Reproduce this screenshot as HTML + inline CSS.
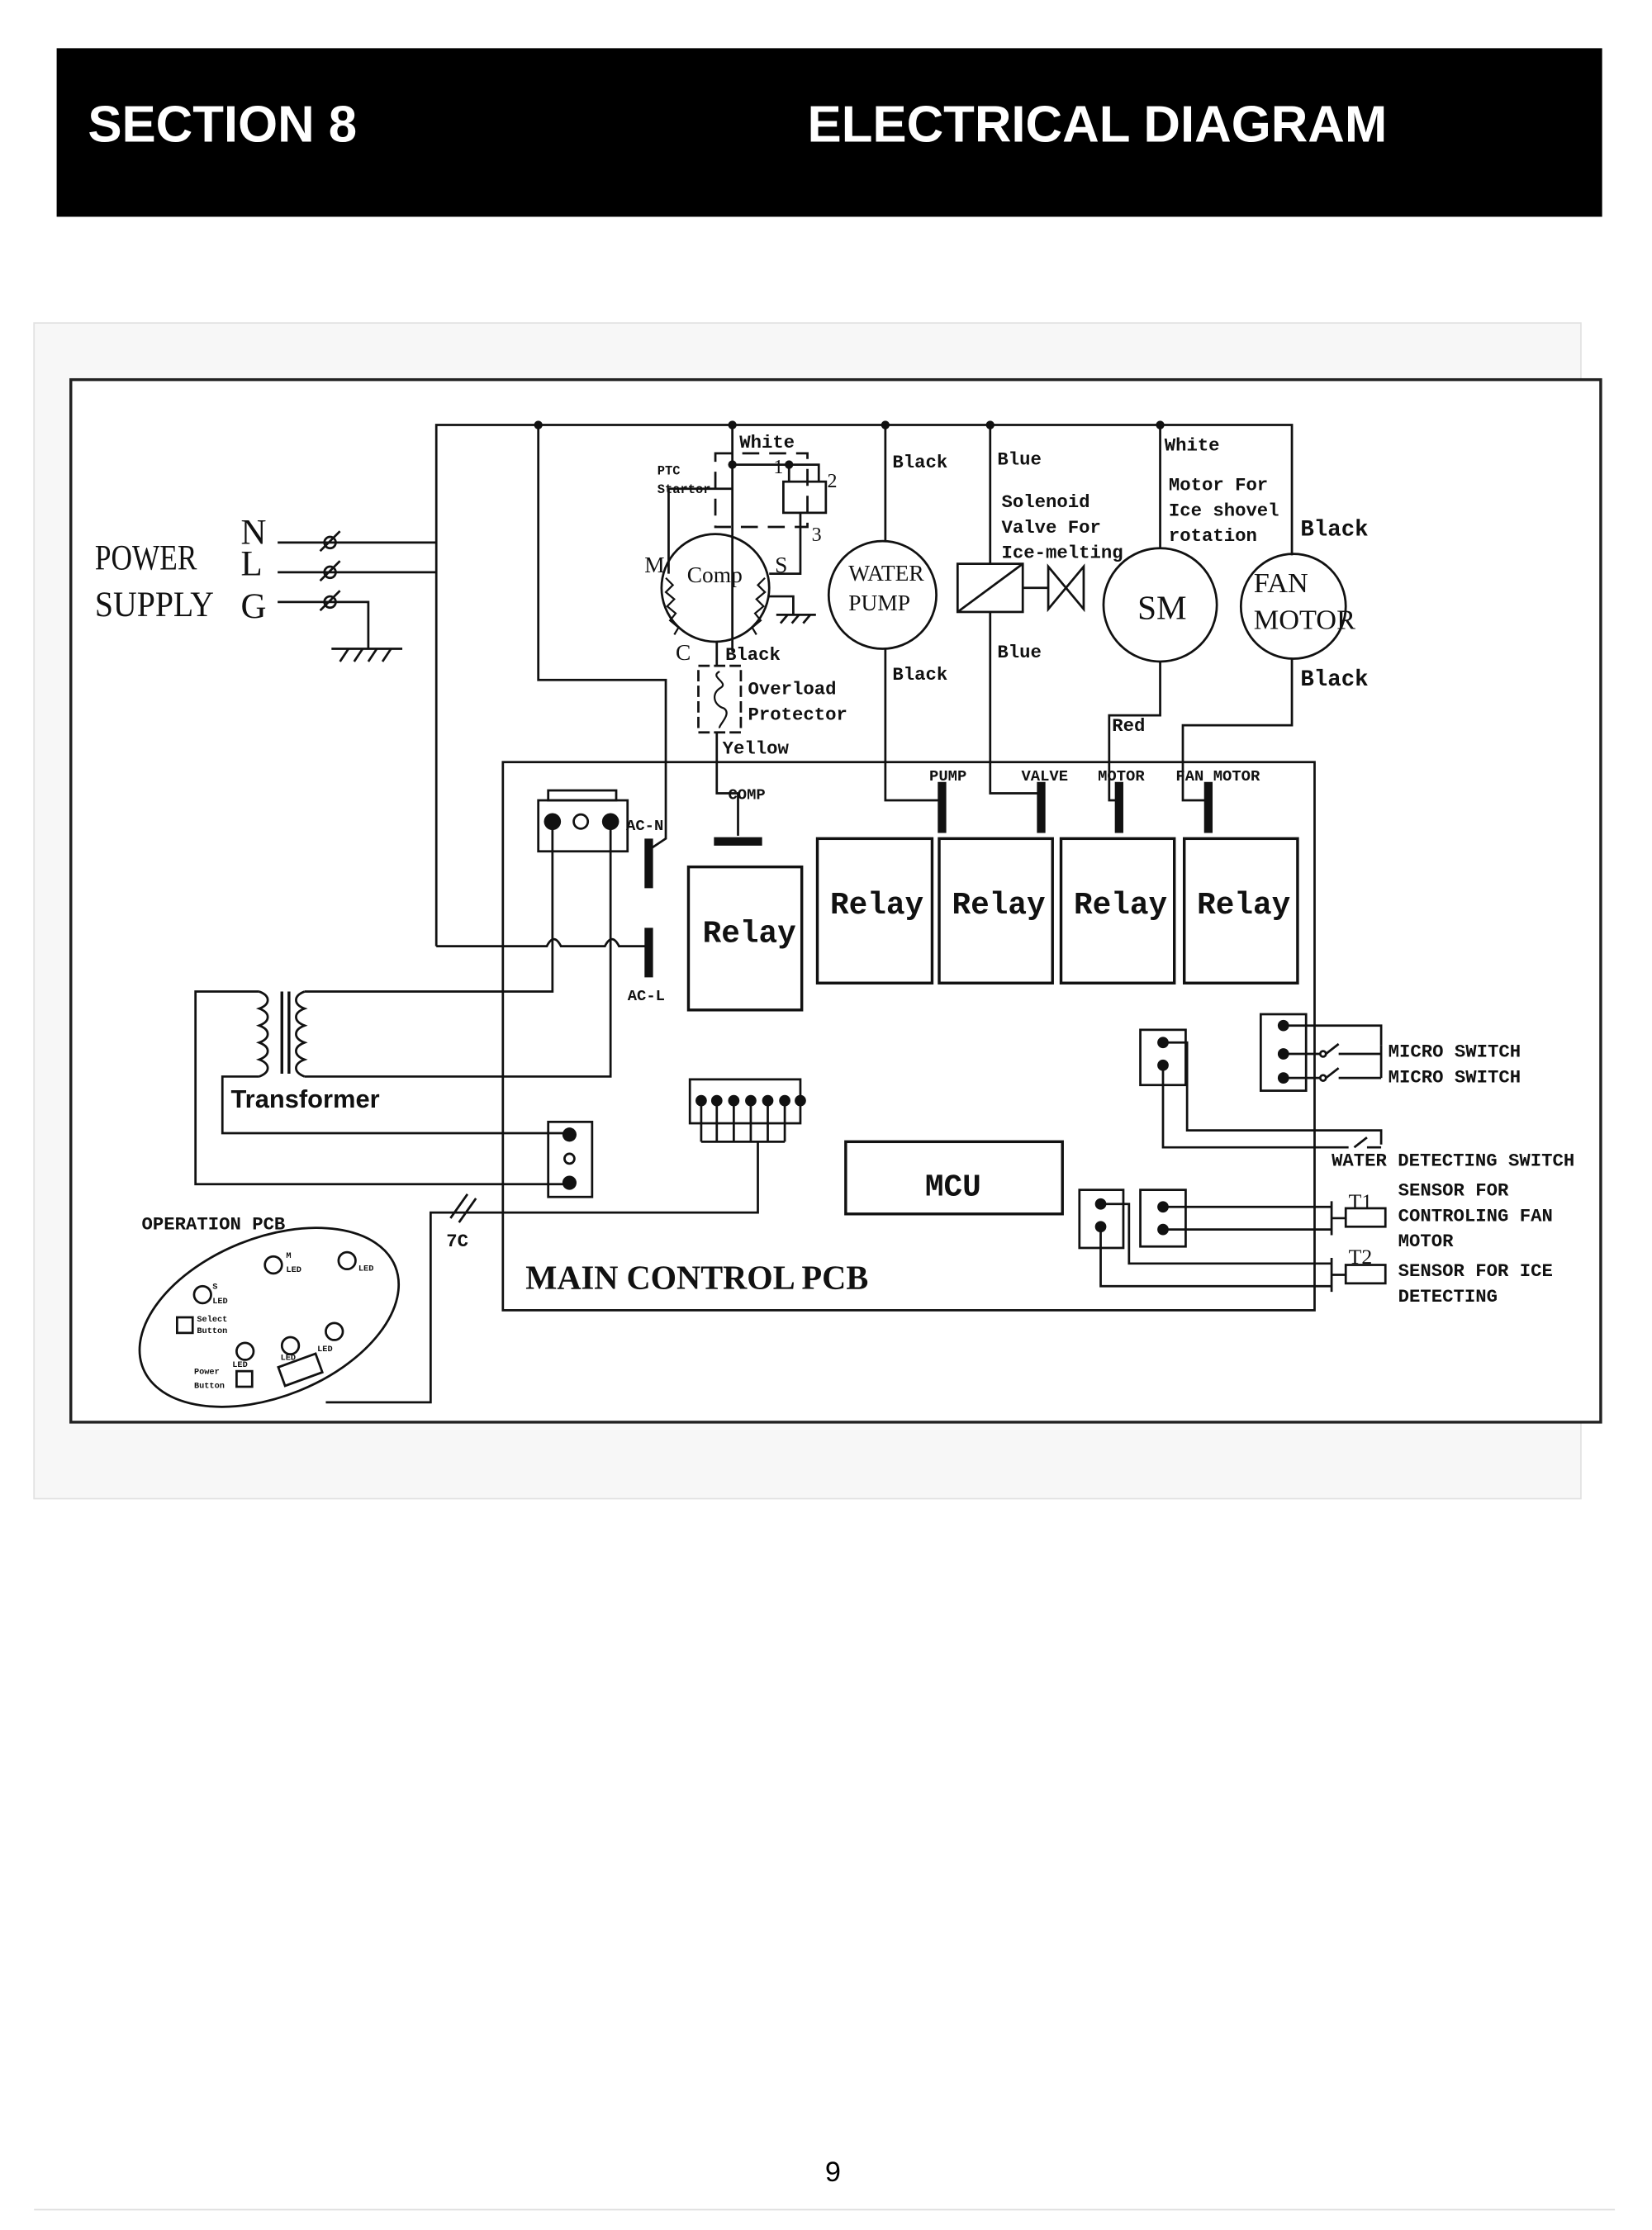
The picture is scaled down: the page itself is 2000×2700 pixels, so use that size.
<!DOCTYPE html>
<html><head><meta charset="utf-8"><style>
html,body{margin:0;padding:0;background:#fff;width:2000px;height:2700px;overflow:hidden}
svg{display:block}
.t{font-family:"Liberation Mono",monospace;font-weight:bold;fill:#111}
.s{font-family:"Liberation Serif",serif;fill:#111}
</style></head><body>
<svg width="2000" height="2700" viewBox="0 0 1166.2 1574.3" xmlns="http://www.w3.org/2000/svg">
<rect x="40" y="34" width="1091" height="119" fill="#000"/>
<text x="62" y="100" font-family="Liberation Sans, sans-serif" font-weight="bold" font-size="36" fill="#fff">SECTION 8</text>
<text x="570" y="100" font-family="Liberation Sans, sans-serif" font-weight="bold" font-size="36" fill="#fff">ELECTRICAL DIAGRAM</text>
<rect x="24" y="228" width="1092" height="830" fill="#f7f7f7" stroke="#e2e2e2"/>
<rect x="50" y="268" width="1080" height="736" fill="#fff" stroke="#222" stroke-width="2"/>
<text x="588" y="1540" font-family="Liberation Sans, sans-serif" font-size="20" text-anchor="middle">9</text>
<line x1="24" y1="1560" x2="1140" y2="1560" stroke="#ddd"/>

<g stroke="#111" stroke-width="1.6" fill="none">
<polyline points="308,668 308,300 912,300 912,392"/>
<line x1="196" y1="383" x2="308" y2="383"/>
<line x1="196" y1="404" x2="308" y2="404"/>
<polyline points="196,425 260,425 260,458"/>
<line x1="234" y1="458" x2="284" y2="458"/>
<path d="M240,467 l6,-9 M250,467 l6,-9 M260,467 l6,-9 M270,467 l6,-9"/>
<path d="M226,389 l14,-14 M226,410 l14,-14 M226,431 l14,-14"/>
<circle cx="233" cy="383" r="4"/><circle cx="233" cy="404" r="4"/><circle cx="233" cy="425" r="4"/>
<path d="M308,668 H386 q5,-10 10,0 H427 q5,-10 10,0 H458"/>
<polyline points="380,300 380,480 470,480 470,592 458,600"/>
<circle cx="505" cy="415" r="38"/>
<polyline points="517,300 517,460"/>
<rect x="505" y="320" width="65" height="52" stroke-dasharray="12,7"/>
<path d="M517,328 H578 V340 M557,328 V340"/>
<rect x="553" y="340" width="30" height="22"/>
<polyline points="472,405 472,345 517,345"/>
<polyline points="543,405 565,405 565,362"/>
<polyline points="543,421 560,421 560,434"/>
<line x1="548" y1="434" x2="576" y2="434"/><path d="M551,440 l5,-6 M559,440 l5,-6 M567,440 l5,-6"/>
<path d="M470,408 l5,5 -5,5 6,5 -5,5 6,5 -4,5 6,5 -3,5 M540,408 l-5,5 5,5 -6,5 5,5 -6,5 4,5 -6,5 3,5" stroke-width="1.3"/>
<polyline points="506,453 506,470"/>
<rect x="493" y="470" width="30" height="47" stroke-dasharray="8,3"/>
<path d="M508,474 c-8,4 8,8 0,12 c-6,4 -4,12 3,14 c6,4 -4,12 -3,14" stroke-width="1.3"/>
<polyline points="506,517 506,560 521,560 521,590"/>
<line x1="504" y1="594" x2="538" y2="594" stroke-width="6"/>
<circle cx="623" cy="420" r="38"/>
<path d="M625,300 V382 M625,458 V565 H665"/>
<path d="M699,300 V398 M699,432 V560 H735"/>
<rect x="676" y="398" width="46" height="34"/>
<line x1="676" y1="432" x2="722" y2="398"/>
<line x1="722" y1="415" x2="740" y2="415"/>
<path d="M740,400 L765,430 L765,400 L740,430 Z"/>
<circle cx="819" cy="427" r="40"/>
<path d="M819,300 V387 M819,467 V505 H783 V565 H790"/>
<circle cx="913" cy="428" r="37"/>
<polyline points="912,465 912,512 835,512 835,565 853,565"/>
<rect x="355" y="538" width="573" height="387"/>
<rect x="486" y="612" width="80" height="101" stroke-width="2"/>
<rect x="577" y="592" width="81" height="102" stroke-width="2"/>
<rect x="663" y="592" width="80" height="102" stroke-width="2"/>
<rect x="749" y="592" width="80" height="102" stroke-width="2"/>
<rect x="836" y="592" width="80" height="102" stroke-width="2"/>
<g stroke-width="6"><line x1="665" y1="552" x2="665" y2="588"/><line x1="735" y1="552" x2="735" y2="588"/><line x1="790" y1="552" x2="790" y2="588"/><line x1="853" y1="552" x2="853" y2="588"/>
<line x1="458" y1="592" x2="458" y2="627"/><line x1="458" y1="655" x2="458" y2="690"/></g>
<rect x="380" y="565" width="63" height="36"/><rect x="387" y="558" width="48" height="7"/>
<circle cx="410" cy="580" r="5"/>
<polyline points="390,580 390,700 215,700"/>
<polyline points="431,580 431,760 215,760"/>
<polyline points="183,700 138,700 138,836 402,836"/>
<polyline points="183,760 157,760 157,800 402,800"/>
<path d="M183,700 c8,3 8,9 0,12 c8,3 8,9 0,12 c8,3 8,9 0,12 c8,3 8,9 0,12 c8,3 8,9 0,12"/>
<path d="M215,700 c-8,3 -8,9 0,12 c-8,3 -8,9 0,12 c-8,3 -8,9 0,12 c-8,3 -8,9 0,12 c-8,3 -8,9 0,12"/>
<line x1="199" y1="700" x2="199" y2="758" stroke-width="2"/><line x1="204" y1="700" x2="204" y2="758" stroke-width="2"/>
<rect x="387" y="792" width="31" height="53"/>
<circle cx="402" cy="818" r="3.5"/>
<rect x="487" y="762" width="78" height="31"/>
<path d="M495,778 v28 M506,778 v28 M518,778 v28 M530,778 v28 M542,778 v28 M554,778 v28 M495,806 H554 M535,806 V856 H304 V990 H230"/>
<path d="M318,860 l12,-17 M324,863 l12,-17"/>
<rect x="597" y="806" width="153" height="51" stroke-width="2"/>
<rect x="805" y="727" width="32" height="39"/>
<rect x="890" y="716" width="32" height="54"/>
<rect x="762" y="840" width="31" height="41"/>
<rect x="805" y="840" width="32" height="40"/>
<polyline points="906,724 975,724 975,738"/>
<path d="M906,744 H932 M945,744 H975 M906,761 H932 M945,761 H975 M975,738 V761"/>
<path d="M936,744 l9,-7 M936,761 l9,-7"/>
<circle cx="934" cy="744" r="2"/><circle cx="934" cy="761" r="2"/>
<polyline points="821,736 838,736 838,798 975,798 975,808"/>
<path d="M821,752 V810 H952 M965,810 H975"/>
<path d="M956,810 l9,-7"/>
<path d="M821,852 H940 M821,868 H940"/>
<rect x="950" y="853" width="28" height="13"/>
<path d="M940,848 v24 M940,860 h10"/>
<polyline points="777,850 797,850 797,892 940,892"/>
<polyline points="777,866 777,908 940,908"/>
<rect x="950" y="893" width="28" height="13"/>
<path d="M940,888 v24 M940,900 h10"/>
<ellipse cx="190" cy="930" rx="96" ry="56" transform="rotate(-22 190 930)"/>
<circle cx="193" cy="893" r="6"/><circle cx="245" cy="890" r="6"/><circle cx="143" cy="914" r="6"/>
<circle cx="173" cy="954" r="6"/><circle cx="205" cy="950" r="6"/><circle cx="236" cy="940" r="6"/>
<rect x="125" y="930" width="11" height="11"/><rect x="167" y="968" width="11" height="11"/>
<rect x="198" y="960" width="28" height="14" transform="rotate(-20 212 967)"/>
</g>
<g fill="#111">
<circle cx="380" cy="300" r="3"/><circle cx="517" cy="300" r="3"/><circle cx="625" cy="300" r="3"/><circle cx="699" cy="300" r="3"/><circle cx="819" cy="300" r="3"/>
<circle cx="517" cy="328" r="3"/><circle cx="557" cy="328" r="3"/>
<circle cx="390" cy="580" r="6"/><circle cx="431" cy="580" r="6"/>
<circle cx="402" cy="801" r="5"/><circle cx="402" cy="835" r="5"/>
<circle cx="495" cy="777" r="4"/><circle cx="506" cy="777" r="4"/><circle cx="518" cy="777" r="4"/><circle cx="530" cy="777" r="4"/><circle cx="542" cy="777" r="4"/><circle cx="554" cy="777" r="4"/><circle cx="565" cy="777" r="4"/>
<circle cx="821" cy="736" r="4"/><circle cx="821" cy="752" r="4"/>
<circle cx="906" cy="724" r="4"/><circle cx="906" cy="744" r="4"/><circle cx="906" cy="761" r="4"/>
<circle cx="777" cy="850" r="4"/><circle cx="777" cy="866" r="4"/><circle cx="821" cy="852" r="4"/><circle cx="821" cy="868" r="4"/>
</g>

<g class="s" font-size="25">
<text x="67" y="402" textLength="72" lengthAdjust="spacingAndGlyphs">POWER</text>
<text x="67" y="435" textLength="84" lengthAdjust="spacingAndGlyphs">SUPPLY</text>
<text x="170" y="384">N</text><text x="170" y="406">L</text><text x="170" y="436">G</text>
</g>
<g class="t" font-size="13">
<text x="522" y="316">White</text><text x="630" y="330">Black</text><text x="704" y="328">Blue</text><text x="822" y="318">White</text>
<text x="707" y="358">Solenoid</text><text x="707" y="376">Valve For</text><text x="707" y="394">Ice-melting</text>
<text x="825" y="346">Motor For</text><text x="825" y="364">Ice shovel</text><text x="825" y="382">rotation</text>
<text x="918" y="378" font-size="16">Black</text><text x="918" y="484" font-size="16">Black</text>
<text x="512" y="466">Black</text><text x="528" y="490">Overload</text><text x="528" y="508">Protector</text><text x="510" y="532">Yellow</text>
<text x="630" y="480">Black</text><text x="704" y="464">Blue</text><text x="785" y="516">Red</text>
<text x="514" y="564" font-size="11">COMP</text>
<text x="656" y="551" font-size="11">PUMP</text><text x="721" y="551" font-size="11">VALVE</text><text x="775" y="551" font-size="11">MOTOR</text><text x="830" y="551" font-size="11">FAN MOTOR</text>
<text x="442" y="586" font-size="11">AC-N</text><text x="443" y="706" font-size="11">AC-L</text>
<text x="464" y="335" font-size="9">PTC</text><text x="464" y="348" font-size="9">Startor</text>
<text x="980" y="746">MICRO SWITCH</text><text x="980" y="764">MICRO SWITCH</text>
<text x="940" y="823">WATER DETECTING SWITCH</text>
<text x="987" y="844">SENSOR FOR</text><text x="987" y="862">CONTROLING FAN</text><text x="987" y="880">MOTOR</text>
<text x="987" y="901">SENSOR FOR ICE</text><text x="987" y="919">DETECTING</text>
<text x="100" y="868">OPERATION PCB</text>
<text x="315" y="880">7C</text>
</g>
<g class="s" font-size="16">
<text x="485" y="411">Comp</text><text x="455" y="404">M</text><text x="547" y="404">S</text><text x="477" y="466">C</text>
<text x="546" y="334" font-size="14">1</text><text x="584" y="344" font-size="14">2</text><text x="573" y="382" font-size="14">3</text>
<text x="599" y="410">WATER</text><text x="599" y="431">PUMP</text>
<text x="803" y="437" font-size="24">SM</text>
<text x="885" y="418" font-size="20">FAN</text><text x="885" y="444" font-size="20">MOTOR</text>
<text x="952" y="853" font-size="15">T1</text><text x="952" y="892" font-size="15">T2</text>
</g>
<g class="t" font-size="22" font-weight="normal">
<text x="496" y="665">Relay</text>
<text x="586" y="645">Relay</text><text x="672" y="645">Relay</text><text x="758" y="645">Relay</text><text x="845" y="645">Relay</text>
<text x="653" y="844">MCU</text>
<text x="371" y="910" font-family="Liberation Serif, serif" font-size="24" textLength="242" lengthAdjust="spacingAndGlyphs">MAIN CONTROL PCB</text>
<text x="163" y="782" font-family="Liberation Sans, sans-serif" font-size="18">Transformer</text>
</g>
<g class="t" font-size="6">
<text x="150" y="910">S</text><text x="150" y="920">LED</text><text x="202" y="888">M</text><text x="202" y="898">LED</text><text x="253" y="897">LED</text>
<text x="139" y="933">Select</text><text x="139" y="941">Button</text><text x="137" y="970">Power</text><text x="137" y="980">Button</text>
<text x="164" y="965">LED</text><text x="198" y="960">LED</text><text x="224" y="954">LED</text>
</g>
</svg>
</body></html>
